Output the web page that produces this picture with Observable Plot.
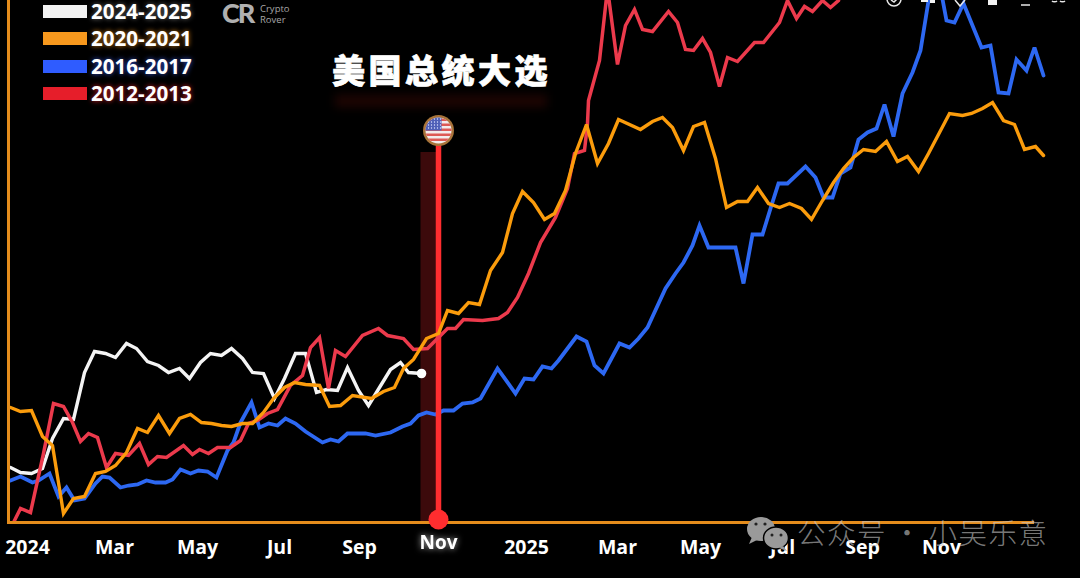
<!DOCTYPE html>
<html>
<head>
<meta charset="utf-8">
<script src="https://cdn.jsdelivr.net/npm/d3@7"></script>
<script src="https://cdn.jsdelivr.net/npm/@observablehq/plot@0.6"></script>
<style>
html,body{margin:0;padding:0;background:#000;width:1080px;height:578px;overflow:hidden}
#wrap{position:relative;width:1080px;height:578px;background:#000;overflow:hidden}
#wrap>svg.plot-root{position:absolute;left:0;top:0}
.ab{position:absolute}
.sw{position:absolute;left:43px;width:44px;height:13px}
.lg{position:absolute;left:91px;font:700 20.6px/22px "Open Sans",sans-serif;color:#fff;white-space:nowrap}
#title{left:332px;top:46px;width:224px;font:900 33px/46px "Noto Sans CJK SC",sans-serif;letter-spacing:3.5px;color:#fff;white-space:nowrap;-webkit-text-stroke:.7px #fff}
#titleGlow{left:335px;top:95px;width:212px;height:12px;background:#1f0503;filter:blur(5px)}
#wm{left:797px;top:512px;font:300 28.5px/40px "Noto Sans CJK SC",sans-serif;letter-spacing:1.5px;word-spacing:-2px;color:rgba(200,200,200,.62);white-space:nowrap}
#cr{left:222px;top:0;font:900 27px/26px Lato,sans-serif;letter-spacing:-2px;color:#b0b0b0}
#crt{left:260px;top:3px;font:400 9.5px/11px "Open Sans",sans-serif;color:#a6a6a6}
</style>
</head>
<body>
<div id="wrap"></div>
<script>
// Chart values: [week since start, relative price index]
const series2024 = [[0,55],[1,50],[2.1,49],[3.2,54],[4.2,84],[5.3,104],[6.3,103],[7.4,150],[8.4,171],[9.5,169],[10.5,165],[11.6,179],[12.6,174],[13.7,161],[14.8,157],[15.8,150],[16.9,154],[17.9,144],[19,160],[20,169],[21.1,167],[22.1,174],[23.2,164],[24.2,150],[25.3,149],[26.4,124],[27.4,144],[28.5,169],[29.5,169],[30.6,130],[31.6,133],[32.7,132],[33.7,155],[34.8,132],[35.8,117],[36.9,135],[38,153],[39,160],[39.8,150],[41.1,149]];
const series2020 = [[0,115],[1,111],[2.1,112],[3.2,86],[4.2,77],[5.3,9],[6.3,24],[7.4,26],[8.5,49],[9.5,51],[10.5,57],[11.6,70],[12.7,94],[13.7,90],[14.8,107],[15.9,89],[16.9,104],[18,108],[19.1,100],[20.1,99],[21.1,97],[22.1,96],[23.2,99],[24.2,99],[25.3,110],[26.3,124],[27.4,135],[28.4,140],[29.5,138],[30.9,137],[31.9,116],[33,117],[34.2,127],[36.1,124],[37.3,131],[38.4,135],[39.3,154],[40.3,163],[41.6,184],[42.8,189],[43.7,212],[44.8,209],[45.8,220],[46.9,218],[48,252],[49.2,270],[50.2,309],[51.2,331],[52.3,320],[53.4,303],[54.4,309],[55.5,332],[56.5,369],[57.6,398],[58.7,359],[59.8,379],[60.8,403],[63,393],[64.2,401],[65.2,405],[66.2,395],[67.3,372],[68.3,396],[69.4,400],[70.5,364],[71.6,315],[72.7,321],[73.7,321],[74.7,335],[75.8,319],[76.9,315],[77.9,319],[79.1,314],[80.1,303],[81.2,322],[82.3,340],[83.3,354],[84.3,365],[85.3,373],[86.5,371],[87.6,381],[88.7,361],[89.7,366],[90.8,351],[91.8,369],[93.9,409],[95.2,407],[96.1,409],[97.2,414],[98.2,420],[99.3,402],[100.4,398],[101.4,373],[102.5,376],[103.3,367]];
const series2016 = [[0,42],[1,46],[2.2,40],[2.8,42],[3.9,49],[4.8,26],[5.6,35],[6.4,22],[7.4,24],[8.5,39],[9.2,46],[9.9,45],[11,35],[11.8,37],[12.7,38],[13.6,42],[14.5,40],[15.5,40],[16.2,43],[17,53],[18,49],[18.8,52],[19.7,51],[20.6,45],[21.7,72],[22.3,80],[23,100],[24.1,120],[24.9,95],[25.8,99],[26.7,97],[27.5,104],[28.5,99],[29.5,91],[31.2,80],[32,83],[32.8,81],[33.7,89],[35.5,89],[36.5,87],[38,90],[39.2,96],[40,99],[40.8,107],[41.6,110],[42.5,108],[43.3,112],[44.3,112],[45.2,119],[46.2,120],[47,124],[48.7,154],[50.5,129],[51.4,144],[52.3,143],[53.2,156],[54.1,154],[54.8,162],[56.6,186],[57.6,181],[58.4,157],[59.3,149],[60.9,179],[61.9,175],[62.8,184],[63.7,195],[65.5,234],[66.5,249],[67.3,260],[68.2,277],[68.9,297],[69.8,275],[72.5,275],[73.3,239],[74.2,288],[75.2,288],[76,314],[76.8,339],[77.7,339],[79.5,356],[80.5,345],[81.3,325],[82.2,325],[83,349],[84,355],[84.8,383],[85.7,390],[86.6,394],[87.4,418],[88.3,386],[89.2,429],[90.2,450],[91,472],[92,534],[93,534],[93.6,502],[94.4,500],[95.3,519],[97.1,475],[98,477],[98.8,430],[99.8,429],[100.6,463],[101.6,452],[102.4,475],[103.3,447]];
const series2012 = [[0.3,0],[1,14],[2,10],[3.3,69],[4.3,119],[5.3,116],[6.2,100],[7,81],[7.8,89],[8.7,85],[9.6,55],[10.5,69],[11.8,67],[12.9,79],[13.8,58],[14.7,66],[15.6,65],[17.3,77],[18.2,68],[18.9,73],[19.8,69],[20.7,75],[22,75],[23,82],[23.8,99],[24.7,102],[25.7,109],[26.7,113],[28,137],[29.2,147],[30,175],[30.9,185],[31.8,134],[32.5,172],[33.5,166],[35.2,187],[36.8,194],[37.7,187],[39.3,184],[40.3,173],[41.7,174],[42.7,184],[43.7,194],[44.5,194],[45.3,203],[47.2,202],[48.8,204],[49.7,210],[50.7,225],[51.8,249],[53,280],[54.5,305],[55.7,334],[56.4,369],[57.4,372],[57.7,399],[57.8,422],[58.9,462],[59.7,534],[60.7,458],[61.5,497],[62.4,513],[63.2,493],[64.2,491],[65.8,511],[66.7,500],[67.5,473],[68.3,472],[69.2,484],[70,470],[70.9,436],[71.7,465],[72.7,461],[74.4,480],[75.3,480],[76.9,500],[77.7,522],[78.6,504],[79.4,516],[80.2,511],[81.2,522],[82,515],[82.8,522],[83.6,552]];

const tickWeeks = [1.7,10.4,18.7,26.9,34.9,51.6,60.7,69,77.2,85.2,93.1];
const tickLabels = ["2024","Mar","May","Jul","Sep","2025","Mar","May","Jul","Sep","Nov"];
const electionWeek = [42.8];
const electionLabel = ["Nov"];
const legendNames = ["2024-2025","2020-2021","2016-2017","2012-2013"];
const legendSwatch = ["#f2f2f2","#f7981d","#2f5cff","#e61e2a"];
const legendGlow = ["#ffffff66","#ff9a1ecc","#3a62ffcc","#ff2430cc"];
const lineColors = {s2024:"#f4f4f4",s2020:"#fb9c0c",s2016:"#2d68f2",s2012:"#ec3a4c"};
const axisColor = "#e48c1c";
const titleText = "美国总统大选";
const watermarkText = "公众号 · 小吴乐意";

const flagSvg = `<svg xmlns="http://www.w3.org/2000/svg" width="64" height="64" viewBox="0 0 64 64"><defs><clipPath id="c"><circle cx="32" cy="32" r="26"/></clipPath></defs><circle cx="32" cy="32" r="31" fill="#a8743a"/><g clip-path="url(#c)"><rect width="64" height="64" fill="#f2ecec"/>${[8,18,28,38,48,58].map(y=>`<rect x="0" y="${y}" width="64" height="5" fill="#dd5a55"/>`).join("")}<rect x="0" y="0" width="38" height="32" fill="#4f5fb8"/>${[9,15,21,27].map(y=>[12,18,24,30,36].map(x=>`<circle cx="${x}" cy="${y}" r="1.3" fill="#dfe4ff"/>`).join("")).join("")}</g></svg>`;
const flagSrc = "data:image/svg+xml;utf8," + encodeURIComponent(flagSvg);

const lineOpts = (stroke, w) => ({x:d=>d[0], y:d=>d[1], stroke, strokeWidth:w, strokeLinejoin:"miter", strokeMiterlimit:3, curve:"linear", clip:true});

const chart = Plot.plot({
  width:1080, height:578,
  marginTop:0, marginRight:0, marginBottom:56, marginLeft:0,
  style:{background:"#000", fontFamily:"'Open Sans',sans-serif", overflow:"hidden"},
  x:{type:"linear", domain:[-1,107], range:[0,1080]},
  y:{type:"linear", domain:[0,522], range:[522,0], axis:null},
  marks:[
    Plot.rect(electionWeek,{x1:d=>d-1.75, x2:d=>d, y1:0, y2:370, fill:"#3c0a0b"}),
    Plot.line(series2016, lineOpts(lineColors.s2016,3.8)),
    Plot.ruleX(electionWeek,{y1:0, y2:392, stroke:"#ff2d2f", strokeWidth:5.5}),
    Plot.line(series2024, lineOpts(lineColors.s2024,3.4)),
    Plot.line(series2012, lineOpts(lineColors.s2012,3.5)),
    Plot.line(series2020, lineOpts(lineColors.s2020,3.4)),
    Plot.dot(series2024.slice(-1),{x:d=>d[0], y:d=>d[1], r:4.8, fill:"#fff"}),
    Plot.ruleX([-0.2],{y1:0, y2:522, stroke:axisColor, strokeWidth:3}),
    Plot.ruleY([0],{x1:-0.3, x2:102.4, stroke:axisColor, strokeWidth:3}),
    Plot.dot(electionWeek,{x:d=>d, y:3, r:10, fill:"#ff2d2f"}),
    Plot.image(electionWeek,{x:d=>d, y:392, width:32, height:32, src:()=>flagSrc}),
    Plot.axisX(tickWeeks,{anchor:"bottom", tickSize:0, tickPadding:18, label:null, fill:"#fff", fontSize:19.5, fontWeight:700, tickFormat:(d,i)=>tickLabels[i]}),
    Plot.axisX(electionWeek,{anchor:"bottom", tickSize:0, tickPadding:13, label:null, fill:"#fff", fontSize:19, fontWeight:700, tickFormat:(d,i)=>electionLabel[i]})
  ]
});
const wrap = document.getElementById("wrap");
wrap.appendChild(chart);
chart.querySelectorAll("g[aria-label='x-axis tick label'] text").forEach(t=>{
  if(t.textContent==="Nov" && t.parentNode.querySelectorAll("text").length===1) t.style.filter="drop-shadow(0 0 3px #ffffffaa)";
});

// Legend, title and overlay furniture
const add = (cls,id,html,css) => {const e=document.createElement("div"); if(cls)e.className=cls; if(id)e.id=id; if(html)e.textContent=html; if(css)e.style.cssText=css; wrap.appendChild(e); return e;};
const legendY = [5,32,60,87];
legendNames.forEach((n,i)=>{
  add("sw",null,null,`top:${legendY[i]}px;background:${legendSwatch[i]}`);
  add("lg",null,n,`top:${legendY[i]-5}px;text-shadow:0 0 5px ${legendGlow[i]}`);
});
add("ab","titleGlow");
add("ab","title",titleText);
add("ab","cr","CR");
const crt = add("ab","crt"); crt.innerHTML="Crypto<br>Rover";
add("ab","wm",watermarkText);
const ov = document.createElementNS("http://www.w3.org/2000/svg","svg");
ov.setAttribute("width",1080); ov.setAttribute("height",578);
ov.style.cssText="position:absolute;left:0;top:0";
ov.innerHTML=`
<g fill="#9a9a9a">
 <ellipse cx="761" cy="529" rx="14" ry="12"/><path d="M752 537 l-3 7 8-4z"/>
 <ellipse cx="776" cy="538" rx="12.5" ry="11" stroke="#000" stroke-width="1.5"/><path d="M783 546 l4 5 -8-3z"/>
</g>
<g fill="#222"><circle cx="756" cy="524" r="1.6"/><circle cx="765" cy="524" r="1.6"/><circle cx="772" cy="535" r="1.5"/><circle cx="781" cy="535" r="1.5"/></g>
<g fill="none" stroke="#e8e8e8" stroke-width="1.5">
 <circle cx="894" cy="-1" r="7"/><path d="M891 0l3 2 4-4"/>
 <path d="M955 0l5 6 5-6"/>
 <path d="M1021 5h9"/><path d="M1052 1c1 1 4 1 5 0M1060 1c1 1 4 1 5 0"/>
</g>
<g fill="#f2f2f2"><rect x="988" y="0" width="9" height="5"/><rect x="921" y="0" width="7" height="2"/><rect x="930" y="0" width="5" height="3"/></g>`;
wrap.appendChild(ov);
</script>
</body>
</html>
